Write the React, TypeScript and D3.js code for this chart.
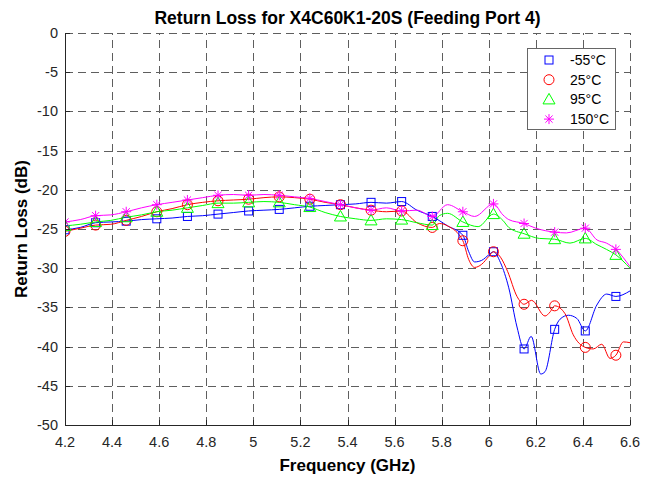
import React from "react";
import * as d3 from "d3";

// ---------- data ----------
const xTicks = [4.2, 4.4, 4.6, 4.8, 5.0, 5.2, 5.4, 5.6, 5.8, 6.0, 6.2, 6.4, 6.6];
const yTicks = [0, -5, -10, -15, -20, -25, -30, -35, -40, -45, -50];

const markerFreq = [4.2, 4.33, 4.46, 4.59, 4.72, 4.85, 4.98, 5.11, 5.24, 5.37, 5.5, 5.63, 5.76, 5.89, 6.02, 6.15, 6.28, 6.41, 6.54];

const blueMarkers = [-25.1, -24.2, -24.0, -23.7, -23.4, -23.1, -22.7, -22.5, -22.1, -21.9, -21.6, -21.5, -23.4, -25.8, -27.9, -40.3, -37.8, -38.0, -33.6];
const redMarkers = [-25.3, -24.5, -23.9, -22.8, -21.9, -21.4, -21.2, -20.9, -21.2, -21.9, -22.6, -22.7, -24.8, -26.5, -27.9, -34.6, -34.8, -40.1, -41.1];
const greenMarkers = [-24.6, -24.1, -23.5, -22.8, -22.3, -21.7, -21.6, -21.6, -22.2, -23.4, -23.9, -23.8, -24.5, -24.1, -23.1, -25.6, -26.3, -26.2, -28.3];
const magentaMarkers = [-24.1, -23.3, -22.8, -21.9, -21.3, -20.7, -20.7, -20.7, -21.1, -21.9, -22.6, -22.7, -23.4, -22.8, -21.8, -24.3, -25.4, -24.9, -27.6];

const blueFreq = [4.2, 4.265, 4.33, 4.395, 4.46, 4.525, 4.59, 4.655, 4.72, 4.785, 4.85, 4.915, 4.98, 5.045, 5.11, 5.175, 5.24, 5.305, 5.37, 5.435, 5.5, 5.565, 5.63, 5.695, 5.76, 5.825, 5.89, 5.915, 5.94, 5.97, 6.0, 6.02, 6.05, 6.085, 6.12, 6.15, 6.18, 6.221, 6.239, 6.28, 6.303, 6.338, 6.374, 6.41, 6.459, 6.501, 6.54, 6.6];
const blueLoss = [-25.1, -24.8, -24.2, -24.1, -24.0, -23.8, -23.7, -23.6, -23.4, -23.3, -23.1, -22.9, -22.7, -22.6, -22.5, -22.3, -22.1, -22.0, -21.9, -21.8, -21.6, -21.7, -21.5, -22.6, -23.4, -24.6, -25.8, -27.9, -29.2, -29.0, -28.3, -27.9, -29.3, -32.5, -37.5, -40.3, -38.7, -43.5, -43.2, -37.8, -36.5, -36.0, -36.4, -38.0, -34.7, -33.3, -33.6, -32.9];

const redFreq = [4.2, 4.265, 4.33, 4.395, 4.46, 4.525, 4.59, 4.655, 4.72, 4.785, 4.85, 4.915, 4.98, 5.045, 5.11, 5.175, 5.24, 5.305, 5.37, 5.435, 5.5, 5.565, 5.63, 5.695, 5.76, 5.79, 5.825, 5.89, 5.915, 5.94, 5.97, 6.0, 6.02, 6.05, 6.08, 6.12, 6.15, 6.182, 6.239, 6.26, 6.28, 6.324, 6.359, 6.41, 6.444, 6.48, 6.515, 6.54, 6.572, 6.6];
const redLoss = [-25.3, -24.9, -24.5, -24.4, -23.9, -23.4, -22.8, -22.4, -21.9, -21.6, -21.4, -21.3, -21.2, -21.0, -20.9, -21.0, -21.2, -21.6, -21.9, -22.3, -22.6, -22.8, -22.7, -24.2, -24.8, -24.3, -24.6, -26.5, -28.9, -29.9, -29.5, -28.5, -27.9, -28.6, -30.4, -33.6, -34.6, -34.1, -36.1, -35.6, -34.8, -35.8, -38.5, -40.1, -40.3, -39.7, -41.5, -41.1, -39.4, -39.5];

const greenFreq = [4.2, 4.265, 4.33, 4.395, 4.46, 4.525, 4.59, 4.655, 4.72, 4.785, 4.85, 4.915, 4.98, 5.045, 5.11, 5.175, 5.24, 5.305, 5.37, 5.435, 5.5, 5.565, 5.63, 5.695, 5.76, 5.79, 5.825, 5.89, 5.955, 6.02, 6.06, 6.085, 6.15, 6.215, 6.28, 6.345, 6.41, 6.46, 6.5, 6.54, 6.6];
const greenLoss = [-24.6, -24.4, -24.1, -23.9, -23.5, -23.2, -22.8, -22.6, -22.3, -22.0, -21.7, -21.7, -21.6, -21.5, -21.6, -21.9, -22.2, -22.9, -23.4, -23.7, -23.9, -23.7, -23.8, -24.2, -24.5, -23.3, -23.0, -24.1, -24.7, -23.1, -23.9, -24.8, -25.6, -26.2, -26.3, -26.8, -26.2, -27.0, -27.6, -28.3, -30.0];

const magentaFreq = [4.2, 4.265, 4.33, 4.395, 4.46, 4.525, 4.59, 4.655, 4.72, 4.785, 4.85, 4.915, 4.98, 5.045, 5.11, 5.175, 5.24, 5.305, 5.37, 5.435, 5.5, 5.565, 5.63, 5.695, 5.76, 5.825, 5.89, 5.94, 6.02, 6.06, 6.085, 6.15, 6.2, 6.28, 6.33, 6.41, 6.46, 6.5, 6.54, 6.6];
const magentaLoss = [-24.1, -23.8, -23.3, -23.2, -22.8, -22.3, -21.9, -21.6, -21.3, -21.0, -20.7, -20.6, -20.7, -20.6, -20.7, -20.9, -21.1, -21.5, -21.9, -22.3, -22.6, -22.3, -22.7, -22.6, -23.4, -21.9, -22.8, -23.4, -21.8, -23.2, -23.8, -24.3, -24.9, -25.4, -25.5, -24.9, -26.4, -26.8, -27.6, -29.8];

const seriesNames = ["-55°C", "25°C", "95°C", "150°C"];
const seriesColors = ["#0000ff", "#ff0000", "#00ff00", "#ff00ff"];
const seriesShapes = ["square", "circle", "triangle", "star"];

const W = 655;
const H = 477;
const M = { left: 65, right: 630, top: 33, bottom: 425 };
const FONT = "'Liberation Sans', Arial, Helvetica, sans-serif";

function Marker({ shape, cx, cy, color }: { shape: string; cx: number; cy: number; color: string }) {
  if (shape === "square") {
    return <rect x={cx - 4} y={cy - 4} width={8} height={8} fill="none" stroke={color} strokeWidth={1} />;
  }
  if (shape === "circle") {
    return <circle cx={cx} cy={cy} r={5} fill="none" stroke={color} strokeWidth={1} />;
  }
  if (shape === "triangle") {
    return (
      <path
        d={`M${cx},${cy - 6} L${cx + 6},${cy + 4.5} L${cx - 6},${cy + 4.5} Z`}
        fill="none"
        stroke={color}
        strokeWidth={1}
      />
    );
  }
  const r = 5;
  const d = r * 0.72;
  return (
    <path
      d={`M${cx},${cy - r}L${cx},${cy + r}M${cx - r},${cy}L${cx + r},${cy}M${cx - d},${cy - d}L${cx + d},${cy + d}M${cx - d},${cy + d}L${cx + d},${cy - d}`}
      stroke={color}
      strokeWidth={1}
      fill="none"
    />
  );
}

export default function App() {
  const x = d3.scaleLinear().domain([4.2, 6.6]).range([M.left, M.right]);
  const y = d3.scaleLinear().domain([-50, 0]).range([M.bottom, M.top]);

  const lineFreqs = [blueFreq, redFreq, greenFreq, magentaFreq];
  const lineVals = [blueLoss, redLoss, greenLoss, magentaLoss];
  const markerVals = [blueMarkers, redMarkers, greenMarkers, magentaMarkers];

  const line = d3
    .line<[number, number]>()
    .x((d) => x(d[0]))
    .y((d) => y(d[1]))
    .curve(d3.curveMonotoneX);

  const fmtX = (v: number) => (Number.isInteger(v) ? String(v) : v.toFixed(1));
  const tickColor = "#262626";

  const legendX = 527;
  const legendY = 48;
  const legendW = 88;
  const legendH = 81;

  return (
    <svg width={W} height={H} style={{ position: "absolute", left: 0, top: 0, background: "#fff" }} fontFamily={FONT}>
      <defs>
        <clipPath id="plotClip">
          <rect x={M.left} y={M.top - 1} width={M.right - M.left} height={M.bottom - M.top + 2} />
        </clipPath>
      </defs>
      <rect x={0} y={0} width={W} height={H} fill="#fff" />

      {/* grid */}
      <g stroke="#5e5e5e" strokeWidth={1} strokeDasharray="8,5" fill="none">
        {xTicks.slice(1).map((t) => (
          <line key={"gx" + t} x1={Math.round(x(t)) + 0.5} x2={Math.round(x(t)) + 0.5} y1={M.bottom} y2={M.top} />
        ))}
        {yTicks.slice(0, -1).map((t) => (
          <line key={"gy" + t} x1={M.left} x2={M.right} y1={Math.round(y(t)) + 0.5} y2={Math.round(y(t)) + 0.5} />
        ))}
      </g>

      {/* series lines and markers */}
      <g clipPath="url(#plotClip)">
        {lineFreqs.map((fs, i) => (
          <path
            key={"l" + i}
            d={line(fs.map((f, j) => [f, lineVals[i][j]] as [number, number])) || ""}
            fill="none"
            stroke={seriesColors[i]}
            strokeWidth={1}
          />
        ))}
        {markerVals.map((vals, i) =>
          vals.map((v, j) => (
            <Marker key={`m${i}-${j}`} shape={seriesShapes[i]} cx={x(markerFreq[j])} cy={y(v)} color={seriesColors[i]} />
          ))
        )}
      </g>

      {/* axes */}
      <g stroke={tickColor} strokeWidth={1} fill="none">
        <line x1={M.left + 0.5} x2={M.left + 0.5} y1={M.top} y2={M.bottom + 0.5} />
        <line x1={M.left} x2={M.right + 0.5} y1={M.bottom + 0.5} y2={M.bottom + 0.5} />
        {xTicks.map((t) => (
          <line key={"tx" + t} x1={Math.round(x(t)) + 0.5} x2={Math.round(x(t)) + 0.5} y1={M.bottom} y2={M.bottom - 5} />
        ))}
        {yTicks.map((t) => (
          <line key={"ty" + t} x1={M.left} x2={M.left + 5} y1={Math.round(y(t)) + 0.5} y2={Math.round(y(t)) + 0.5} />
        ))}
      </g>

      {/* tick labels */}
      <g fill={tickColor} fontSize={14.5}>
        {xTicks.map((t) => (
          <text key={"lx" + t} x={x(t)} y={M.bottom + 22} textAnchor="middle">
            {fmtX(t)}
          </text>
        ))}
        {yTicks.map((t) => (
          <text key={"ly" + t} x={M.left - 7} y={y(t) + 5} textAnchor="end">
            {t}
          </text>
        ))}
      </g>

      {/* title and axis labels */}
      <text x={(M.left + M.right) / 2} y={24} textAnchor="middle" fontSize={17.5} fontWeight="bold" fill="#000">
        Return Loss for X4C60K1-20S (Feeding Port 4)
      </text>
      <text x={(M.left + M.right) / 2} y={471} textAnchor="middle" fontSize={17} fontWeight="bold" fill="#000">
        Frequency (GHz)
      </text>
      <text
        transform={`translate(27,${(M.top + M.bottom) / 2}) rotate(-90)`}
        textAnchor="middle"
        fontSize={17}
        fontWeight="bold"
        fill="#000"
      >
        Return Loss (dB)
      </text>

      {/* legend */}
      <g>
        <rect x={legendX + 0.5} y={legendY + 0.5} width={legendW} height={legendH} fill="#fff" stroke="#666" strokeWidth={1} />
        {seriesNames.map((name, i) => {
          const cy = 60 + i * 19.7;
          return (
            <g key={"lg" + i}>
              <Marker shape={seriesShapes[i]} cx={549} cy={cy} color={seriesColors[i]} />
              <text x={570} y={cy + 5} fontSize={14} fill="#000">
                {name}
              </text>
            </g>
          );
        })}
      </g>
    </svg>
  );
}
